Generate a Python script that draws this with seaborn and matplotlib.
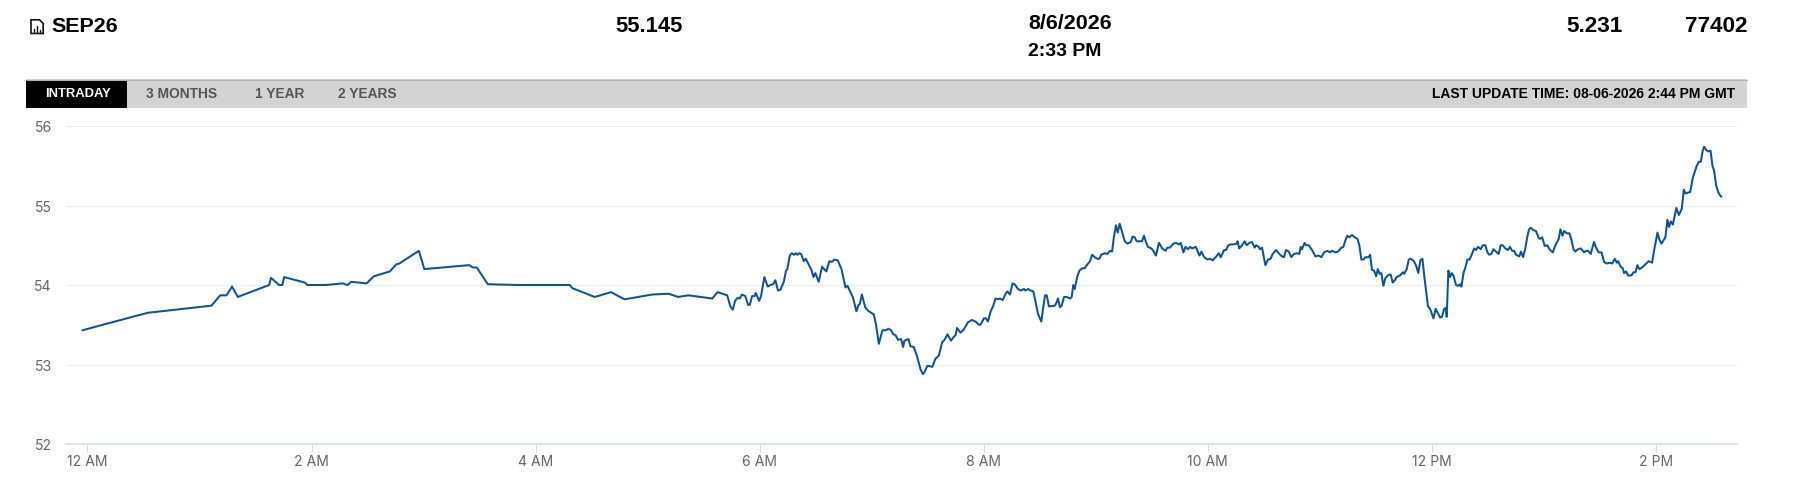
import matplotlib
matplotlib.use("Agg")
import matplotlib.pyplot as plt
from matplotlib.patches import Rectangle, Polygon
from matplotlib.lines import Line2D
from matplotlib.transforms import ScaledTranslation
import pandas as pd
import seaborn as sns

# ---------- data: minutes after midnight and price ----------
minutes_night = [-2.7, 6.6, 32.2, 66.4, 71.1, 74.5, 77.4, 80.5, 97.3, 98.3, 102.6, 104.4, 105.3, 116.5, 117.8,
                 127.4, 136.6, 139.3, 141.3, 149.5, 153.4, 161.9, 165.4, 167.0, 177.5, 180.4, 204.4, 206.4,
                 208.5, 214.4, 230.0, 258.3, 259.7, 271.6, 274.7, 280.4, 287.6, 302.4, 311.2, 316.3, 321.9,
                 334.6, 337.4, 342.6]
prices_night = [53.43, 53.49, 53.65, 53.74, 53.87, 53.87, 53.98, 53.85, 54.00, 54.09, 54.00, 54.00, 54.10, 54.03, 54.00,
                54.00, 54.02, 54.00, 54.04, 54.02, 54.11, 54.17, 54.26, 54.27, 54.43, 54.20, 54.25, 54.22,
                54.22, 54.01, 54.00, 54.00, 53.96, 53.85, 53.87, 53.91, 53.82, 53.88, 53.89, 53.85, 53.87,
                53.83, 53.91, 53.87]

minutes_morning = [344.3, 345.6, 346.8, 348.2, 349.3, 350.5, 352.3, 353.8, 354.7, 355.9, 357.2, 357.9, 359.7, 360.7,
                   362.5, 364.3, 365.7, 367.2, 368.4, 369.8, 371.1, 372.9, 374.1, 374.8, 376.1, 377.2, 378.4, 379.3,
                   380.2, 381.1, 382.2, 383.6, 384.7, 386.4, 387.7, 388.8, 389.8, 391.6, 393.4, 394.5, 395.7, 397.3,
                   398.6, 400.0, 401.8, 403.8, 405.9, 407.0, 409.8, 411.8, 412.9, 413.6, 414.7, 416.5, 417.9, 419.7,
                   421.1, 422.3, 423.2, 423.8, 424.7, 425.7, 427.5, 428.9, 430.4, 431.5, 432.7, 434.1, 435.7, 436.8,
                   437.5, 439.7, 440.7, 442.5, 444.3, 446.1, 447.4, 448.2, 449.7, 450.9, 452.5, 454.0, 455.9, 457.7,
                   459.0, 460.6, 462.4, 464.0, 464.9, 465.7, 467.5, 469.3, 471.5, 473.6, 475.6, 477.4, 478.2]
prices_morning = [53.73, 53.69, 53.80, 53.84, 53.83, 53.88, 53.86, 53.75, 53.75, 53.86, 53.86, 53.90, 53.80, 53.86,
                  54.10, 53.98, 54.00, 54.01, 54.06, 53.93, 53.94, 54.04, 54.18, 54.20, 54.37, 54.40, 54.38, 54.40,
                  54.38, 54.40, 54.39, 54.30, 54.33, 54.25, 54.19, 54.10, 54.15, 54.04, 54.23, 54.20, 54.17, 54.30,
                  54.29, 54.32, 54.31, 54.20, 53.97, 53.99, 53.85, 53.67, 53.75, 53.76, 53.88, 53.72, 53.68, 53.65,
                  53.63, 53.50, 53.36, 53.26, 53.34, 53.43, 53.43, 53.45, 53.43, 53.38, 53.37, 53.31, 53.32, 53.22,
                  53.30, 53.32, 53.23, 53.22, 53.10, 52.94, 52.88, 52.90, 52.98, 52.98, 52.97, 53.07, 53.11, 53.28,
                  53.31, 53.38, 53.30, 53.35, 53.37, 53.46, 53.40, 53.44, 53.53, 53.56, 53.54, 53.50, 53.50]

minutes_midday = [480.1, 481.2, 482.2, 483.7, 485.1, 486.3, 487.6, 488.7, 490.1, 491.7, 492.6, 494.0, 495.4, 496.5,
                  498.3, 499.7, 501.5, 502.2, 503.7, 505.1, 506.5, 507.8, 509.0, 510.8, 511.9, 512.8, 513.7, 514.9,
                  518.0, 519.0, 519.7, 520.8, 521.7, 523.0, 524.4, 526.2, 527.1, 527.9, 528.7, 530.1, 531.2, 532.6,
                  534.0, 535.5, 536.9, 538.0, 539.4, 540.8, 541.9, 542.9, 544.7, 546.2, 547.6, 548.7, 549.7, 550.8,
                  551.7, 552.8, 554.0, 555.5, 556.9, 558.7, 559.7, 560.8, 561.9, 563.3, 564.7, 565.8, 566.7, 567.9,
                  569.7, 570.8, 572.2, 573.8, 575.6, 577.4, 578.3, 579.7, 581.5, 582.9, 584.6, 585.5, 586.9, 588.0,
                  589.4, 590.5, 591.5, 593.5, 595.5, 596.5, 598.0, 599.8, 601.2, 602.6, 604.2, 605.8, 606.9, 608.7,
                  609.7, 611.0, 612.2]
prices_midday = [53.58, 53.58, 53.54, 53.67, 53.74, 53.83, 53.82, 53.83, 53.81, 53.89, 53.92, 53.88, 54.02, 54.01,
                 53.95, 53.93, 53.95, 53.93, 53.95, 53.93, 53.92, 53.78, 53.64, 53.54, 53.73, 53.87, 53.87, 53.73,
                 53.74, 53.78, 53.83, 53.72, 53.74, 53.85, 53.85, 53.83, 53.85, 54.00, 53.95, 54.11, 54.18, 54.21,
                 54.21, 54.26, 54.30, 54.38, 54.35, 54.33, 54.33, 54.38, 54.40, 54.39, 54.43, 54.42, 54.61, 54.75,
                 54.66, 54.77, 54.67, 54.55, 54.52, 54.54, 54.61, 54.60, 54.55, 54.55, 54.55, 54.62, 54.55, 54.48,
                 54.46, 54.43, 54.37, 54.53, 54.46, 54.43, 54.47, 54.47, 54.52, 54.53, 54.51, 54.53, 54.41, 54.48,
                 54.45, 54.48, 54.46, 54.48, 54.37, 54.42, 54.35, 54.32, 54.33, 54.31, 54.35, 54.40, 54.35, 54.44,
                 54.44, 54.50, 54.51]

minutes_noon = [613.6, 615.4, 615.9, 616.8, 618.3, 619.7, 620.8, 622.2, 623.6, 625.1, 625.8, 627.2, 627.9, 629.0,
                630.8, 632.2, 633.6, 634.7, 636.5, 638.3, 639.7, 640.8, 641.8, 643.3, 644.7, 646.1, 647.9, 649.0,
                649.7, 650.4, 651.8, 652.6, 654.0, 655.8, 657.6, 659.3, 660.8, 662.2, 664.0, 665.4, 666.5, 668.3,
                669.7, 671.5, 672.6, 673.6, 674.7, 675.8, 677.2, 678.6, 680.1, 681.1, 682.2, 683.3, 684.4, 686.1,
                686.9, 687.9, 689.0, 690.1, 691.0, 692.0, 692.9, 694.0, 695.1, 696.9, 697.9, 699.0, 700.4, 701.1,
                702.9, 704.4, 705.1, 706.5, 707.6, 708.6, 710.4, 711.7, 712.7, 713.8, 714.9, 716.0, 717.0, 717.9,
                719.0, 720.8, 722.0, 723.3, 724.4, 725.4, 726.5, 727.4, 727.9, 728.8, 729.7, 730.6, 731.5, 732.9,
                734.0, 735.1, 735.8, 736.9, 737.9, 739.0, 740.1, 741.1, 742.6, 743.6, 744.7, 746.1]
prices_noon = [54.51, 54.52, 54.55, 54.46, 54.50, 54.55, 54.50, 54.53, 54.54, 54.47, 54.50, 54.48, 54.45, 54.47,
               54.25, 54.32, 54.33, 54.39, 54.44, 54.39, 54.36, 54.35, 54.44, 54.42, 54.35, 54.39, 54.40, 54.39,
               54.48, 54.45, 54.53, 54.50, 54.50, 54.44, 54.36, 54.37, 54.35, 54.41, 54.43, 54.41, 54.43, 54.41,
               54.42, 54.47, 54.48, 54.56, 54.62, 54.60, 54.63, 54.60, 54.58, 54.50, 54.32, 54.32, 54.35, 54.35,
               54.38, 54.19, 54.18, 54.11, 54.20, 54.14, 54.15, 53.99, 54.09, 54.13, 54.13, 54.03, 54.07, 54.10,
               54.12, 54.16, 54.14, 54.20, 54.32, 54.33, 54.30, 54.23, 54.15, 54.31, 54.33, 54.09, 53.90, 53.73,
               53.70, 53.58, 53.70, 53.64, 53.59, 53.60, 53.70, 53.71, 53.60, 54.18, 54.10, 54.15, 54.12, 54.00,
               53.99, 54.01, 53.98, 54.15, 54.22, 54.32, 54.32, 54.37, 54.46, 54.44, 54.48, 54.45]

minutes_close = [747.2, 748.6, 749.7, 750.7, 751.8, 752.9, 754.3, 755.7, 756.8, 757.9, 759.3, 760.7, 761.8, 762.9,
                 764.0, 765.0, 766.8, 767.7, 768.8, 770.0, 771.1, 772.0, 772.9, 774.3, 775.7, 777.2, 777.9, 779.0,
                 780.4, 781.8, 782.9, 784.7, 786.1, 787.9, 788.8, 789.9, 790.8, 792.2, 793.6, 794.7, 795.8, 796.8,
                 798.2, 799.7, 801.5, 802.5, 803.6, 805.0, 806.8, 807.9, 809.3, 810.8, 812.2, 813.6, 815.4, 816.5,
                 817.9, 819.0, 819.7, 821.1, 822.2, 822.9, 824.0, 825.0, 826.8, 827.9, 829.0, 830.0, 831.1, 832.5,
                 834.3, 836.1, 837.9, 839.0, 840.8, 841.8, 842.9, 845.0, 846.1, 847.0, 847.9, 849.0, 850.9, 852.2,
                 853.8, 854.9, 855.8, 856.8, 858.3, 859.7, 861.8, 862.9, 864.0, 865.0, 865.8, 866.8, 867.9, 869.2,
                 870.2, 871.1, 872.2, 873.3, 874.2, 875.0]
prices_close = [54.50, 54.50, 54.41, 54.38, 54.39, 54.45, 54.42, 54.39, 54.50, 54.50, 54.46, 54.44, 54.48, 54.43,
                54.43, 54.38, 54.36, 54.42, 54.35, 54.46, 54.61, 54.70, 54.72, 54.69, 54.68, 54.59, 54.58, 54.60,
                54.49, 54.50, 54.45, 54.41, 54.50, 54.58, 54.70, 54.62, 54.68, 54.65, 54.65, 54.57, 54.45, 54.42,
                54.45, 54.46, 54.41, 54.43, 54.43, 54.39, 54.54, 54.47, 54.41, 54.41, 54.29, 54.27, 54.28, 54.27,
                54.33, 54.28, 54.30, 54.23, 54.21, 54.15, 54.17, 54.12, 54.12, 54.16, 54.16, 54.25, 54.20, 54.22,
                54.26, 54.30, 54.28, 54.44, 54.66, 54.57, 54.52, 54.60, 54.82, 54.73, 54.80, 54.76, 54.97, 54.88,
                54.96, 55.20, 55.15, 55.16, 55.17, 55.35, 55.50, 55.55, 55.55, 55.69, 55.74, 55.70, 55.68, 55.69,
                55.50, 55.44, 55.25, 55.17, 55.13, 55.11]

y_ticks = [52, 53, 54, 55, 56]
x_ticks = [0, 120, 240, 360, 480, 600, 720, 840]
x_labels = ["12 AM", "2 AM", "4 AM", "6 AM", "8 AM", "10 AM", "12 PM", "2 PM"]
contract = "SEP26"
last_price = "55.145"
trade_date = "8/6/2026"
trade_time = "2:33 PM"
change = "5.231"
volume = "77402"
tabs = ["INTRADAY", "3 MONTHS", "1 YEAR", "2 YEARS"]
update_note = "LAST UPDATE TIME: 08-06-2026 2:44 PM GMT"

W, H = 1802, 487
sns.set_theme(style="white")
plt.rcParams["font.family"] = ["Liberation Sans", "DejaVu Sans"]

fig = plt.figure(figsize=(W / 100, H / 100), dpi=100, facecolor="white")
def fx(x): return x / W
def fy(y): return 1 - y / H
def pt(px): return px * 0.72

ax = fig.add_axes([fx(65.8), fy(444), (1736.7 - 65.8) / W, (444 - 126) / H])
frame = pd.DataFrame({
    "minute": minutes_night + minutes_morning + minutes_midday + minutes_noon + minutes_close,
    "price": prices_night + prices_morning + prices_midday + prices_noon + prices_close,
})
sns.lineplot(data=frame, x="minute", y="price", ax=ax, estimator=None, sort=False,
             color="#0b549c", linewidth=1.45, zorder=3)

ax.set_xlim(-11.6, 883.2)
ax.set_ylim(52, 56)
ax.set_xlabel("")
ax.set_ylabel("")
ax.set_yticks(y_ticks)
ax.set_yticklabels([str(v) for v in y_ticks], family="Inter", fontsize=pt(14), color="#666666", va="center")
ax.set_xticks(x_ticks)
ax.set_xticklabels(x_labels, family="Inter", fontsize=pt(14), color="#666666")
ax.tick_params(axis="y", length=0, pad=10)
ax.tick_params(axis="x", length=pt(8), width=0.7, color="#d5dce6", pad=pt(3), bottom=True)
ax.grid(axis="y", color="#ebebeb", linewidth=0.75, zorder=0)
ax.grid(axis="x", visible=False)
for side in ("top", "left", "right"):
    ax.spines[side].set_visible(False)
ax.spines["bottom"].set_color("#dfe4ea")
ax.spines["bottom"].set_linewidth(1.4)
shift = ScaledTranslation(0, -1.5 / 72, fig.dpi_scale_trans)
for lab in ax.get_yticklabels():
    lab.set_transform(lab.get_transform() + shift)

# tab band
fig.add_artist(Rectangle((fx(26), fy(108)), (1747 - 26) / W, 29 / H, transform=fig.transFigure,
                         facecolor="#d3d3d3", edgecolor="none"))
fig.add_artist(Line2D([fx(26), fx(1747)], [fy(79.5), fy(79.5)], color="#b0b0b0", linewidth=0.8))
fig.add_artist(Rectangle((fx(26), fy(108)), 101.3 / W, 28.3 / H, transform=fig.transFigure,
                         facecolor="#000000", edgecolor="none"))

def put(x, y, s, size, color="#000000", weight="bold", ha="left"):
    fig.text(fx(x), fy(y), s, fontsize=pt(size), color=color, fontweight=weight, ha=ha, va="center")

put(51.7, 26.5, contract, 21.5)
put(615, 26.5, last_price, 22)
put(1028, 23.5, trade_date, 21.5)
put(1028, 52, trade_time, 19.5)
put(1623, 26.5, change, 22.5, ha="right")
put(1747, 26.5, volume, 22.5, ha="right")

put(45.3, 94, tabs[0], 13, color="#ffffff")
put(146, 94, tabs[1], 13.8, color="#555555")
put(255, 94, tabs[2], 13.8, color="#555555")
put(338, 94, tabs[3], 13.8, color="#555555")
put(1735, 94, update_note, 13.9, ha="right")

# file-with-chart icon beside the contract code
icon_outline = [(31, 19.8), (39.5, 19.8), (43.2, 23.5), (43.2, 33.5), (31, 33.5)]
fig.add_artist(Polygon([(fx(a), fy(b)) for a, b in icon_outline], closed=True, transform=fig.transFigure,
                       facecolor="white", edgecolor="#111111", linewidth=1.2))
for bx, top in ((34, 29), (37, 26), (40, 30)):
    fig.add_artist(Line2D([fx(bx), fx(bx)], [fy(32.5), fy(top)], color="#111111", linewidth=1.0))

fig.savefig("out.png", dpi=100, facecolor="white")
